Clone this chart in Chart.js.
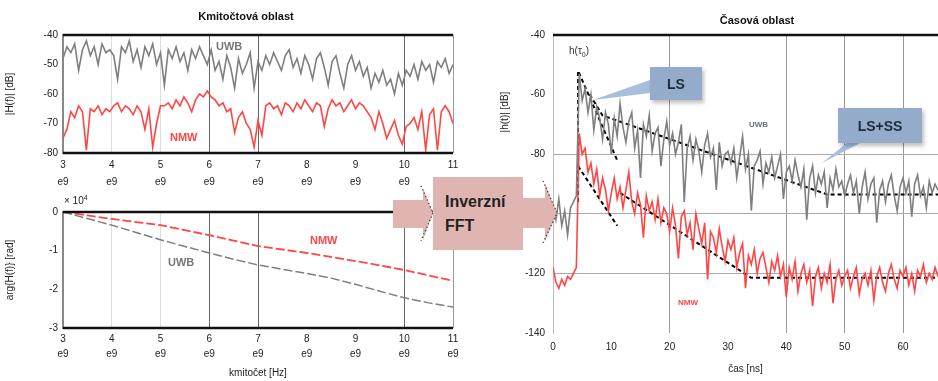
<!DOCTYPE html>
<html lang="cs">
<head>
    <meta charset="UTF-8">
    <title>Kmitočtová a časová oblast</title>
    <script src="https://cdn.jsdelivr.net/npm/chart.js"></script>
    <style>
        body {
            margin: 0;
            width: 938px;
            height: 381px;
            background: #fff;
            font-family: 'Liberation Sans', Arial, sans-serif;
            position: relative;
            overflow: hidden;
        }
        .box { position: absolute; }
        .lbl {
            position: absolute;
            font-size: 11px;
            font-weight: bold;
            white-space: nowrap;
        }
        .title {
            position: absolute;
            font-size: 11px;
            font-weight: bold;
            color: #111;
            transform: translateX(-50%);
        }
        .ytitle {
            position: absolute;
            font-size: 10px;
            color: #222;
            white-space: nowrap;
            transform: translate(-50%, -50%) rotate(-90deg);
        }
        .callout {
            position: absolute;
            background: #94abcb;
            color: #1d2a3a;
            font-weight: bold;
            font-size: 14px;
            display: flex;
            align-items: center;
            justify-content: center;
            box-shadow: 2px 3px 4px rgba(0,0,0,0.25);
        }
        svg { position: absolute; left: 0; top: 0; }
    </style>
</head>
<body>
    <div class="box" style="left:0;top:0;width:470px;height:190px"><canvas id="magChart"></canvas></div>
    <div class="box" style="left:0;top:190px;width:470px;height:191px"><canvas id="phaseChart"></canvas></div>
    <div class="box" style="left:490px;top:0;width:448px;height:381px"><canvas id="timeChart"></canvas></div>

    <div class="title" style="left:246px;top:10px">Kmitočtová oblast</div>
    <div class="title" style="left:757px;top:14px">Časová oblast</div>
    <div class="ytitle" style="left:504px;top:112px">|h(t)| [dB]</div>

    <div class="lbl" style="left:216px;top:40px;color:#777">UWB</div>
    <div class="lbl" style="left:170px;top:131px;color:#ff4545">NMW</div>
    <div class="lbl" style="left:310px;top:234px;color:#ff4545">NMW</div>
    <div class="lbl" style="left:168px;top:256px;color:#777">UWB</div>
    <div class="lbl" style="left:64px;top:194px;color:#222;font-weight:normal;font-size:10px">× 10<sup style="font-size:7px">4</sup></div>
    <div class="lbl" style="left:749px;top:120px;color:#6a6f85;font-size:8px">UWB</div>
    <div class="lbl" style="left:678px;top:298px;color:#ff4545;font-size:8px">NMW</div>
    <div class="lbl" style="left:569px;top:45px;color:#333;font-weight:normal;font-size:10px">h(τ<sub style="font-size:7px">0</sub>)</div>

    <svg width="938" height="381">
        <polygon points="650,80 650,93 593,100" fill="#a9bedb"/>
        <polygon points="848,142 862,142 822,163" fill="#a9bedb"/>
        <polygon points="393,200 423,200 423,188 433,213 423,240 423,228 393,228" fill="#e0b5b1"/>
        <polyline points="421,186 433,213 421,241" fill="none" stroke="#333" stroke-width="1.2" stroke-dasharray="1.2,2.5"/>
        <rect x="433" y="177" width="90" height="73" fill="#e0b5b1"/>
        <polygon points="523,198 545,198 545,183 557,213 545,242 545,228 523,228" fill="#e0b5b1"/>
        <polyline points="543,181 557,213 543,243" fill="none" stroke="#333" stroke-width="1.2" stroke-dasharray="1.2,2.5"/>
        <text x="445" y="207" font-size="16" font-weight="bold" fill="#222" font-family="Liberation Sans, Arial">Inverzní</text>
        <text x="445" y="231" font-size="16" font-weight="bold" fill="#222" font-family="Liberation Sans, Arial">FFT</text>
    </svg>
    <div class="callout" style="left:650px;top:67px;width:52px;height:33px">LS</div>
    <div class="callout" style="left:838px;top:108px;width:84px;height:35px">LS+SS</div>

    <script>
        // kmitočtová oblast: 3 .. 11 GHz, krok 0.08 GHz
        const freqStart = 3;
        const freqStep = 0.08;
        const magUwb = [
            -48, -44, -46, -43, -52, -45, -42, -47, -44, -50, -43, -46, -45,
            -47, -55, -44, -46, -42, -49, -45, -51, -44, -47, -43, -50, -46,
            -57, -45, -48, -44, -49, -46, -52, -45, -48, -44, -47, -50, -45,
            -52, -49, -55, -47, -51, -58, -48, -53, -50, -46, -58, -49, -52,
            -47, -50, -46, -49, -52, -47, -45, -51, -48, -53, -47, -50,
            -55, -48, -46, -51, -57, -49, -47, -53, -58, -50, -47, -52, -49,
            -54, -51, -58, -53, -56, -52, -57, -55, -60, -53, -57, -52,
            -54, -50, -55, -49, -52, -50, -56, -49, -51, -48, -53, -50
        ];
        const magNmw = [
            -75, -72, -66, -68, -64, -66, -79, -65, -66, -64, -67, -65, -66,
            -64, -63, -66, -64, -65, -67, -64, -66, -72, -65, -78, -70, -64,
            -64, -63, -65, -62, -64, -61, -63, -66, -62, -60, -61, -59, -61,
            -62, -64, -63, -66, -65, -73, -68, -66, -70, -72, -78, -69, -74,
            -64, -63, -65, -64, -67, -63, -64, -66, -63, -65, -62, -64,
            -66, -63, -64, -71, -65, -62, -64, -63, -66, -64, -62, -65, -63,
            -64, -66, -68, -72, -66, -70, -75, -72, -69, -74, -77, -71,
            -70, -68, -72, -66, -79, -67, -65, -79, -66, -64, -66, -70
        ];

        // fáze [x 10^4 rad], krok 0.5 GHz
        const phaseFreq = [3, 3.5, 4, 4.5, 5, 5.5, 6, 6.5, 7, 7.5, 8, 8.5, 9, 9.5, 10, 10.5, 11];
        const phaseUwb = [0, -0.17, -0.34, -0.53, -0.72, -0.89, -1.06, -1.22, -1.37, -1.48, -1.59, -1.71, -1.87, -2.05, -2.22, -2.35, -2.46];
        const phaseNmw = [0, -0.09, -0.18, -0.26, -0.34, -0.47, -0.60, -0.74, -0.88, -0.97, -1.06, -1.16, -1.27, -1.38, -1.50, -1.64, -1.78];

        // časová oblast: 0 .. 66 ns, krok 0.5 ns
        const timeStart = 0;
        const timeStep = 0.5;
        const impUwb = [
            -97, -102, -95, -104, -99, -107, -98, -96, -94,
            -53, -62, -58, -66, -60, -72, -64, -68, -75, -66, -70, -80,
            -68, -74, -63, -71, -76, -69, -66, -78, -72, -88, -70, -74, -67, -79, -73, -71, -84, -75, -69, -77,
            -73, -80, -76, -70, -96, -78, -74, -82, -75, -79, -86, -77, -73, -81, -78, -92, -76, -84, -80, -79,
            -83, -78, -88, -81, -74, -85, -80, -99, -84, -82, -79, -90, -83, -86, -81, -88, -84, -80, -95, -86,
            -84, -89, -82, -87, -91, -85, -102, -88, -84, -93, -87, -90, -86, -98, -88, -92, -85, -91, -89, -94,
            -90, -87, -93, -89, -100, -91, -86, -95, -90, -88, -103, -92, -89, -96, -90, -87, -94, -99, -91, -88,
            -93, -89, -101, -90, -87, -94, -91, -98, -89, -93, -90, -92
        ];
        const impNmw = [
            -118, -123, -125, -122, -124, -121, -122, -120, -118,
            -73, -80, -78, -86, -83, -90, -85, -94, -88, -92, -99, -93,
            -88, -95, -91, -98, -92, -86, -96, -100, -93, -97, -108, -94, -99, -96, -102, -95, -103, -98, -100, -106,
            -98, -104, -115, -101, -99, -107, -103, -112, -100, -105, -110, -103, -122, -106, -108, -113, -105, -111, -116, -109,
            -112, -108, -118, -113, -110, -125, -114, -117, -112, -120, -115, -113, -118, -123, -116, -119, -114, -121, -117, -128,
            -118, -122, -116, -126, -120, -117, -123, -119, -131, -121, -118, -125, -120, -123, -117, -130, -122, -119, -124, -121,
            -119, -125, -121, -118, -127, -122, -120, -124, -119, -129, -121, -118, -123, -126, -120, -117, -122, -125, -119, -121,
            -118, -124, -120, -126, -119, -121, -117, -123, -120, -122, -118, -121
        ];

        // LS a LS+SS modely (body zlomů)
        const uwbLsT = [4.3, 4.3, 11];
        const uwbLsV = [-96, -52, -82];
        const uwbLsSsT = [6.3, 8.5, 47, 66];
        const uwbLsSsV = [-60, -67, -93.5, -93.5];
        const nmwLsT = [4.3, 11];
        const nmwLsV = [-84, -104];
        const nmwLsSsT = [11.5, 34, 66];
        const nmwLsSsV = [-93, -121.5, -121.5];

        const GRAY = '#7f7f7f';
        const RED = 'rgb(255, 70, 70)';

        function even(start, step, vals) {
            return vals.map((v, i) => ({ x: start + i * step, y: v }));
        }
        function pairs(xs, ys) {
            return ys.map((v, i) => ({ x: xs[i], y: v }));
        }

        // černé linky rámečku (nahoře, případně dole)
        function frame(id, bottom) {
            return {
                id: id,
                afterDraw(chart) {
                    const a = chart.chartArea, c = chart.ctx;
                    c.save();
                    c.strokeStyle = '#111';
                    c.lineWidth = 2.5;
                    c.beginPath();
                    c.moveTo(a.left, a.top);
                    c.lineTo(a.right, a.top);
                    if (bottom) {
                        c.moveTo(a.left, a.bottom);
                        c.lineTo(a.right, a.bottom);
                    }
                    c.stroke();
                    c.restore();
                }
            };
        }

        function freqGrid(ctx) {
            const v = ctx.tick.value;
            if (v === 6 || v === 7 || v === 10) return '#666';
            if (v === 4 || v === 5) return '#ddd';
            if (v === 11) return '#999';
            return 'rgba(0,0,0,0)';
        }

        const tickFont = { size: 10, family: "'Liberation Sans', Arial" };

        function freqAxis(h, lh, title) {
            return {
                type: 'linear', min: 3, max: 11,
                afterFit: s => { s.height = h; },
                ticks: {
                    stepSize: 1, color: '#222', padding: 4,
                    font: Object.assign({ lineHeight: lh }, tickFont),
                    callback: v => [String(v), 'e9']
                },
                grid: { color: freqGrid, drawTicks: false },
                border: { display: false },
                title: title ? { display: true, text: title, color: '#222', font: tickFont, padding: 2 } : { display: false }
            };
        }

        Chart.defaults.animation = false;
        Chart.defaults.responsive = true;
        Chart.defaults.maintainAspectRatio = false;
        Chart.defaults.plugins.legend.display = false;
        Chart.defaults.plugins.tooltip.enabled = false;
        Chart.defaults.elements.point.radius = 0;

        new Chart(document.getElementById('magChart'), {
            type: 'line',
            data: {
                datasets: [
                    { data: even(freqStart, freqStep, magUwb), borderColor: GRAY, borderWidth: 1.6 },
                    { data: even(freqStart, freqStep, magNmw), borderColor: RED, borderWidth: 1.6 }
                ]
            },
            options: {
                layout: { padding: { top: 35, right: 17 } },
                scales: {
                    x: freqAxis(37, 1.7, null),
                    y: {
                        min: -80, max: -40,
                        afterFit: s => { s.width = 63; },
                        ticks: { stepSize: 10, color: '#222', font: tickFont, padding: 5 },
                        grid: { display: false, drawTicks: false },
                        border: { color: '#888', width: 2 },
                        title: { display: true, text: '|H(f)| [dB]', color: '#222', font: tickFont, padding: 4 }
                    }
                }
            },
            plugins: [frame('frame1', true)]
        });

        new Chart(document.getElementById('phaseChart'), {
            type: 'line',
            data: {
                datasets: [
                    { data: pairs(phaseFreq, phaseUwb), borderColor: GRAY, borderWidth: 1.5, borderDash: [9, 3] },
                    { data: pairs(phaseFreq, phaseNmw), borderColor: RED, borderWidth: 1.8, borderDash: [9, 3] }
                ]
            },
            options: {
                layout: { padding: { top: 22, right: 17 } },
                scales: {
                    x: freqAxis(53, 1.5, 'kmitočet [Hz]'),
                    y: {
                        min: -3, max: 0,
                        afterFit: s => { s.width = 63; },
                        ticks: { stepSize: 1, color: '#222', font: tickFont, padding: 5 },
                        grid: { display: false, drawTicks: false },
                        border: { color: '#888', width: 2 },
                        title: { display: true, text: 'arg{H(f)} [rad]', color: '#222', font: tickFont, padding: 4 }
                    }
                }
            },
            plugins: [frame('frame2', true)]
        });

        new Chart(document.getElementById('timeChart'), {
            type: 'line',
            data: {
                datasets: [
                    { data: even(timeStart, timeStep, impUwb), borderColor: GRAY, borderWidth: 1.6 },
                    { data: even(timeStart, timeStep, impNmw), borderColor: RED, borderWidth: 1.6 },
                    { data: pairs(uwbLsT, uwbLsV), borderColor: '#000', borderWidth: 2, borderDash: [4, 3] },
                    { data: pairs(uwbLsSsT, uwbLsSsV), borderColor: '#000', borderWidth: 2, borderDash: [4, 3] },
                    { data: pairs(nmwLsT, nmwLsV), borderColor: '#000', borderWidth: 2, borderDash: [4, 3] },
                    { data: pairs(nmwLsSsT, nmwLsSsV), borderColor: '#000', borderWidth: 2, borderDash: [4, 3] }
                ]
            },
            options: {
                layout: { padding: { top: 35, right: 0 } },
                scales: {
                    x: {
                        type: 'linear', min: 0, max: 66,
                        afterFit: s => { s.height = 48; },
                        afterBuildTicks: s => { s.ticks = s.ticks.filter(t => t.value % 10 === 0); },
                        ticks: { stepSize: 10, color: '#222', font: tickFont, padding: 8 },
                        grid: {
                            color: ctx => [20, 40, 50, 60].includes(ctx.tick.value) ? '#999' : 'rgba(0,0,0,0)',
                            drawTicks: false
                        },
                        border: { display: false },
                        title: { display: true, text: 'čas [ns]', color: '#222', font: tickFont, padding: 6 }
                    },
                    y: {
                        min: -140, max: -40,
                        afterFit: s => { s.width = 63; },
                        ticks: { stepSize: 20, color: '#222', font: tickFont, padding: 8 },
                        grid: {
                            color: ctx => [-80, -100, -120].includes(ctx.tick.value) ? '#aaa' : 'rgba(0,0,0,0)',
                            drawTicks: false
                        },
                        border: { color: '#bbb', width: 1 },
                        title: { display: false }
                    }
                }
            },
            plugins: [frame('frame3', false)]
        });
    </script>
</body>
</html>
